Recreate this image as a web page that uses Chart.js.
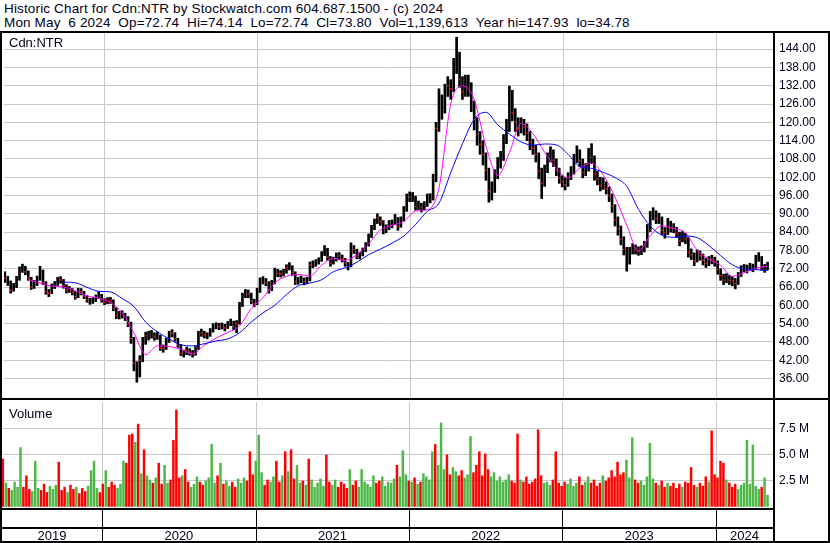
<!DOCTYPE html>
<html><head><meta charset="utf-8">
<script src="https://cdn.jsdelivr.net/npm/chart.js@4.4.1/dist/chart.umd.min.js"></script>
<style>
html,body{margin:0;padding:0;background:#fff;}
body{width:830px;height:543px;position:relative;overflow:hidden;font-family:"Liberation Sans",Arial,sans-serif;}
#title{position:absolute;left:4px;top:2px;font-size:13.5px;letter-spacing:0.15px;line-height:14px;color:#000018;white-space:pre;}
#pc{position:absolute;left:0;top:29px;}
#vc{position:absolute;left:0;top:402px;}
</style></head><body>
<div id="title">Historic Chart for Cdn:NTR by Stockwatch.com 604.687.1500 - (c) 2024
Mon May  6 2024  Op=72.74  Hi=74.14  Lo=72.74  Cl=73.80  Vol=1,139,613  Year hi=147.93  lo=34.78</div>
<canvas id="pc" width="830" height="373"></canvas>
<canvas id="vc" width="830" height="141"></canvas>
<script>
// ---- data (weekly bars starting at startDate) ----
const startDate = '2019-05-10';
const closes = [69,68,65,66,68.5,71.5,72.5,71,69,66,
67,68.5,71.5,67.5,64.5,64,66,66.8,68.1,68.3,
66.5,65,65,64.2,62.8,64.6,64.4,63,61.8,61.1,
61.5,62.5,63.5,61.8,61,61.5,61.5,59,56.7,56.8,
57,56,54,49,41,36.5,42,48,50,50,
50.5,49.8,50,46,45.8,48,50.5,50.8,49,47,
44.3,44.2,45.2,44.6,44,45.5,50.5,51,50.3,50,
51.5,53.1,53.3,53,53.2,52.6,53.7,54.4,53,54,
60,62.8,64,63.8,61.5,60.5,64.5,68,68.3,67.5,
65,67.2,71.2,70.4,70.3,70.8,72.3,72.8,70.8,67.8,
68.1,68.6,67.7,68.1,73.2,73.5,74,74.6,76.6,78.5,
75.8,73.8,74.8,76.2,76.2,75.2,73.9,72.7,79.4,78.2,
76.2,76.3,77.8,79.5,82.3,85,87,88.7,87.5,84.6,
85.1,86.6,86.6,88.6,85.8,87.8,91,95,95.5,95.5,
92.5,92.8,92,92.6,95,95,101,118,128,124.4,
130,132,131,138,145,134,130,132,132.5,126.5,
121,116,112.8,109.5,104.3,97.5,97.5,102.5,106.5,108.1,
114,118,130,123,120,118,119,118.5,116.5,113.5,
111.5,109.5,104,100,104.2,108,110.2,107.6,104.3,101.8,
100.6,99.5,101.8,103.5,107.5,110.3,107.5,103.5,104.5,109.5,
108.5,103,101.3,99.2,100,98.2,96,92.5,88,85,
81.6,78.3,75,77.5,78.7,78.3,77.8,78,79.4,85,
89,90.3,88.4,88.5,84.6,83.8,87,85.4,85.2,83.6,
81.2,82.8,81.8,77.4,76.6,74.5,76.8,76.3,74.8,73.8,
74.5,75.1,74.2,71.7,69.7,68.2,69,68.2,68.1,67.2,
69.8,71.9,72.2,71.9,72.8,72.2,75.4,75.8,72.5,71.9,
73.8];
const highs = [71,69.5,68,67.2,69.5,72.6,73.5,72.8,71.3,69.2,
68.2,69.6,72.8,71.6,67.8,65.2,67,67.8,69.2,69.4,
68.5,66.8,66.2,65.5,64.5,65.6,65.5,64.6,63.2,62.3,
62.5,63.4,64.5,63.6,62.2,62.5,62.6,61.8,59.2,58,
58.2,57.4,56.3,54.5,49.5,41.5,43.5,49.5,51.2,51.5,
51.8,51,51.3,50.2,47,49.2,51.5,52,51,49.2,
47.2,45.3,46.3,45.8,45.2,46.5,51.5,52.2,51.5,51,
52.4,54,54.3,54.1,54.2,53.8,54.7,55.5,54.8,55,
61,64,65.2,65,64,62,65.6,69,69.4,68.8,
67.8,68.2,72.2,71.8,71.4,71.8,73.3,74,73,71,
69.2,69.6,69,69.2,74.2,74.6,75,75.6,77.6,79.6,
78.7,76,75.8,77.2,77.3,76.5,75.4,74.1,80.5,79.6,
78.4,77.4,78.8,80.6,83.4,86.2,88.3,90,89,87.8,
86.4,87.8,88,89.8,88.8,89,92.4,96.5,97.2,97,
95.8,94.2,93.5,94,96.5,96.6,103,120,131,129,
132.5,135,134,141,147.9,143,135,135.5,135.5,133,
127,121.5,117,114,110,105,100.5,104.5,108.5,110.5,
116,121,131.9,130.5,124.5,121.5,121.5,121,119.5,117,
114.5,112.5,110,105,106,110,112,111,108,105,
102.5,101.8,103.5,105.5,109.5,112.3,111,108,106.5,111.5,
113,109,104,102,101.8,100.5,98.8,96.5,93,89,
86,82.5,79,79,80.2,79.8,79.2,79.5,81,86.5,
90.8,92,91,90.2,89,85.5,88.5,87.6,86.8,85.6,
84,84.2,83.6,82.2,78.5,77.2,78.2,77.8,76.8,75.4,
76,76.4,75.8,74.6,72,70.2,70.4,69.8,69.4,68.8,
70.8,73,73.4,73.2,73.8,73.5,76.4,77.3,76,73.4,
74.14];
const lows = [67.5,66.5,64,64.6,65.8,68.2,70.8,70,68.2,65.2,
65.5,66.5,68.2,66.8,63.6,62.8,63.8,65.5,66.5,67.2,
65.6,64,64.2,63.4,62,62.5,63.4,62.2,61,60.3,
60.6,61.2,62.2,61,60.2,60.5,60.6,58.2,55.6,55.5,
55.8,55,53,47.5,38.5,34.78,36.5,41.5,47.2,48.6,
49.2,48.5,48.8,45.2,44.6,45.5,47.8,49.6,48.2,46.2,
43.5,43,43.8,43.6,43,43.6,45.5,49.8,49.3,49,
49.8,51.2,52.3,52,52.2,51.6,52.4,53.3,52,51,
53.8,59.6,62.5,62.5,60.5,59.5,60.2,64.2,67,66.4,
64,64.8,67,69.4,69.2,69.6,70.5,71.6,69.8,66.8,
66.9,67.4,66.7,67,68,72.3,72.8,73.5,74.4,76.3,
74.8,72.8,73.5,74.5,75,74.2,72.8,71.6,72.6,77,
75.2,75.2,76.2,77.6,79.4,82.2,84.8,86.8,86.2,83.4,
83.8,84.8,85.4,86.4,84.6,85.6,87.6,90.8,94,94,
91.2,91.4,90.6,91.2,92.4,93.6,94.5,100.5,117,121,
123,128.5,127.5,130,136,131.5,127.5,128.5,128.5,123.5,
117.5,112.5,109.5,106,101,93.8,94.5,97,101.5,105,
107.5,113,117,120.5,117,115.5,116.5,115.8,114,111,
109.5,107,101.5,95,99,103.5,107,105.5,102.5,100,
98.8,97.8,99,101.2,103,106.8,105.5,101.8,102.5,104,
106.5,101,99.5,97.5,98,96.5,94,90.5,86,83,
79.8,76.5,71.2,73.5,76.8,76.8,76.4,76.6,77.5,79,
84.2,88,86.8,86.8,83.2,82,83.2,84,83.8,82.2,
79.5,80.8,80.2,75.8,75,73,74.2,74.8,73.2,72.4,
73,73.6,72.8,70.2,68.2,66.8,67.4,66.8,66.4,65.4,
66.8,69.4,71,70.6,71.4,71,72,74.4,71.5,70.8,
71.6];
// volume in millions of shares
const volumes = [4.6,2.3,1.8,1.6,2.4,1.9,5.7,1.9,3.0,1.7,
1.5,4.4,1.8,1.6,2.2,1.4,2.0,1.7,2.1,4.3,
1.6,1.9,1.4,2.1,1.7,1.9,1.3,1.8,1.5,2.0,
3.5,4.4,1.8,1.4,2.2,3.5,1.9,2.4,2.1,1.8,
2.2,4.4,4.2,6.9,7.0,6.2,7.95,3.2,5.5,3.0,
2.6,2.3,2.8,4.2,2.2,4.0,2.3,2.6,6.4,9.3,
2.8,3.0,3.6,2.4,1.9,2.2,2.9,2.4,2.1,2.5,
2.8,6.0,2.3,3.0,4.2,2.2,2.5,2.0,2.4,1.9,
2.7,2.3,2.8,2.5,5.3,3.1,4.4,6.9,3.3,2.1,
2.6,2.4,2.9,4.4,2.4,3.0,5.3,3.4,5.5,2.7,
4.0,2.3,2.5,2.1,4.6,2.6,1.9,2.3,2.7,2.0,
5.0,2.4,2.1,2.6,1.9,2.4,2.2,1.8,3.6,2.1,
2.5,1.9,3.6,2.4,2.2,1.9,3.0,2.3,2.5,2.9,
2.0,2.4,2.3,2.7,4.0,2.9,5.4,3.1,2.5,2.4,
2.8,2.2,2.4,3.2,2.9,2.6,5.3,6.0,4.0,8.05,
3.6,5.0,3.1,3.8,3.4,3.0,3.5,2.8,3.1,6.75,
3.3,4.0,5.3,3.0,5.1,3.6,2.9,3.3,2.5,2.9,
2.4,2.6,3.1,2.5,2.3,7.0,2.6,2.4,2.9,2.2,
2.4,2.7,7.4,3.0,2.3,2.4,2.1,2.6,5.3,2.3,
2.0,2.4,2.2,2.7,2.0,2.3,2.9,2.1,2.4,2.9,
2.3,2.6,2.0,2.3,3.0,2.5,2.8,3.5,2.9,4.3,
3.1,3.3,4.5,2.8,6.65,2.6,2.3,2.5,2.1,2.9,
6.1,2.7,2.3,2.1,2.5,1.9,2.3,2.0,2.3,1.8,
2.2,1.9,2.4,2.3,3.8,2.1,1.9,2.3,2.0,2.9,
2.4,7.3,3.1,2.8,4.4,4.2,2.6,2.3,1.9,2.2,
1.7,2.1,2.3,6.4,2.2,5.95,2.0,1.7,1.9,2.8,
1.14];
// g = up bar (green volume), r = down bar (red volume + red close mark)
const volDir = 'rgrggggrrr'+'gggrrrgggr'+'rrgrrgrrrg'+'gggrrgrrrg'+'ggrrrgrgrg'+
  'grgrrggrrr'+'rgrrgggrrg'+'gggrgrggrr'+'gggrrrgggr'+'rggrrgrgrr'+
  'ggrgrggggg'+'rrggrrrrgr'+'rggggggrrg'+'ggggrgggrg'+'rgrggggrgg'+
  'grrggrrggg'+'rrrrrrgggg'+'gggrrrgrrr'+'rrrrgggrrr'+'rrggggrrgg'+
  'rrrrgrrrrr'+'rrgggrrggg'+'ggrgrrgrrr'+'rgrrrrgrrr'+'grrrrrgrrr'+
  'ggggggggrg'+'g';
// moving averages read every maStep weeks
const maStep = 4;
const maShort = [null,null,68.4,67.3,66.3,66.0,64.8,63.1,62.4,60.9,
57.5,51,43.8,46.7,46.5,45.6,44.0,46.9,49.2,51.1,
53.2,58.9,62.5,67.3,69.5,70.1,69.6,73.2,75.4,74.7,
76.6,80.1,84.7,86.2,87.5,90.9,91.3,98.5,126,132,
127.5,112.3,102.6,110,119.7,116.3,110.2,104.9,101.8,105,
106.6,102.7,95.5,86.3,77.8,82.8,86.1,85.2,83.8,78.1,
75.1,73.1,69.5,70.7,72.2,72.8];
const maLong = [null,null,null,null,null,67.6,67.4,65.9,64.6,64.4,
62.2,59.6,54.5,51.3,49.0,47,46.7,47.4,48.3,49,
51,54.5,57.5,60,63.5,66.4,67.3,68.4,71,72.3,
74.1,76.6,78.4,80.4,82.7,86.5,90.8,93.5,103.5,113,
121,123.3,119.2,116.2,113.6,112.5,112.9,112.6,109.5,105.5,
104.9,103.6,101.9,99,91.5,86,83,82.3,82.7,82.2,
79.6,76.3,73.3,71.9,71.7,71.4];
const priceTicks = [36,42,48,54,60,66,72,78,84,90,96,102,108,114,120,126,132,138,144];
const volTicks = [2.5,5,7.5];
const years = [2019,2020,2021,2022,2023,2024];

// ---- helpers ----
const DAY = 86400000;
const t0 = Date.parse(startDate + 'T00:00:00Z');
const dayOf = s => (Date.parse(s + 'T00:00:00Z') - t0) / DAY;
const X_MIN = -2, X_MAX = 1833;
const FONT = '"Liberation Sans", Arial, sans-serif';
const GRID = '#c8c8c8';
const GREEN = '#4db848', RED = '#ff0000';
Chart.defaults.font.family = FONT;
Chart.defaults.font.size = 12;
Chart.defaults.color = '#000018';

const yearPx = (x, y) => Math.round(x.getPixelForValue(dayOf(y + '-01-01')));
const fitRight = s => { s.width = 57; s.paddingTop = 0; s.paddingBottom = 0; s.paddingLeft = 0; s.paddingRight = 0; };

const yearGrid = {
  id: 'yearGrid',
  beforeDatasetsDraw(chart) {
    const {ctx, chartArea: a, scales: {x}} = chart;
    ctx.save(); ctx.fillStyle = GRID;
    years.slice(1).forEach(y => ctx.fillRect(yearPx(x, y), a.top, 1, a.bottom - a.top));
    ctx.restore();
  }
};

const priceFrame = {
  id: 'priceFrame',
  afterDraw(chart) {
    const {ctx, chartArea: a, width: W, height: H} = chart;
    ctx.save(); ctx.fillStyle = '#000';
    ctx.fillRect(0, a.top - 2, W, 2);
    ctx.fillRect(0, a.top - 2, 2, H);
    ctx.fillRect(a.right, a.top - 2, 2, H);
    ctx.fillRect(W - 2, a.top - 2, 2, H);
    ctx.fillRect(0, a.bottom, W, 2);
    ctx.fillStyle = '#000018';
    ctx.font = '13px ' + FONT; ctx.textBaseline = 'middle'; ctx.textAlign = 'left';
    ctx.fillText('Cdn:NTR', 9, a.top + 10);
    ctx.restore();
  }
};

const volFrame = {
  id: 'volFrame',
  afterDraw(chart) {
    const {ctx, chartArea: a, width: W, height: H, scales: {x}} = chart;
    ctx.save(); ctx.fillStyle = '#000';
    ctx.fillRect(0, 0, 2, H);
    ctx.fillRect(a.right, 0, 2, H);
    ctx.fillRect(W - 2, 0, 2, H);
    const r1 = a.bottom, r2 = a.bottom + 19, r3 = H - 2;
    ctx.fillRect(0, r1, a.right + 2, 2);
    ctx.fillRect(0, r2, a.right + 2, 2);
    ctx.fillRect(0, r3, W, 2);
    years.slice(1).forEach(y => ctx.fillRect(yearPx(x, y), r1 + 2, 1, r3 - r1 - 2));
    ctx.fillStyle = '#000018';
    ctx.font = '13px ' + FONT; ctx.textBaseline = 'middle'; ctx.textAlign = 'center';
    years.forEach(y => {
      const l = Math.max(a.left, x.getPixelForValue(dayOf(y + '-01-01')));
      const r = Math.min(a.right, x.getPixelForValue(dayOf((y + 1) + '-01-01')));
      ctx.fillText(String(y), (l + r) / 2, (r2 + 2 + r3) / 2 + 1);
    });
    ctx.textAlign = 'left';
    ctx.fillText('Volume', 9, a.top + 12);
    ctx.restore();
  }
};

const xScale = {type: 'linear', min: X_MIN, max: X_MAX, display: false, offset: false, grid: {offset: false}};

new Chart(document.getElementById('pc'), {
  type: 'bar',
  data: {datasets: [
    {type: 'line', data: maLong.map((v, k) => ({x: 7 * maStep * k, y: v})), borderColor: '#0000ff', borderWidth: 1,
     pointRadius: 0, cubicInterpolationMode: 'monotone', spanGaps: true, order: 0},
    {type: 'line', data: maShort.map((v, k) => ({x: 7 * maStep * k, y: v})), borderColor: '#ff00ff', borderWidth: 1,
     pointRadius: 0, cubicInterpolationMode: 'monotone', spanGaps: true, order: 1},
    {type: 'scatter', data: closes.map((c, i) => volDir[i] === 'r' ? {x: 7 * i, y: c} : null).filter(Boolean),
     pointStyle: 'rect', pointRadius: 1.1, backgroundColor: RED, borderWidth: 0, order: 2},
    {type: 'bar', data: closes.map((c, i) => ({x: 7 * i, y: [lows[i], highs[i]]})), backgroundColor: '#000',
     borderWidth: 0, barThickness: 2, order: 3}
  ]},
  options: {
    responsive: false, animation: false, devicePixelRatio: 1,
    layout: {padding: {left: 2, top: 3, right: 0, bottom: 2}},
    plugins: {legend: {display: false}, tooltip: {enabled: false}},
    scales: {
      x: xScale,
      y: {type: 'linear', position: 'right', min: 29.6, max: 149.3,
          afterFit: fitRight,
          afterBuildTicks: s => { s.ticks = priceTicks.map(v => ({value: v})); },
          ticks: {callback: v => Number(v).toFixed(2), padding: 6, font: {size: 12}},
          grid: {color: GRID, drawTicks: false, lineWidth: 1},
          border: {display: false}}
    }
  },
  plugins: [yearGrid, priceFrame]
});

new Chart(document.getElementById('vc'), {
  type: 'bar',
  data: {datasets: [
    {data: volumes.map((v, i) => ({x: 7 * i, y: v})), backgroundColor: volumes.map((v, i) => volDir[i] === 'r' ? RED : GREEN),
     borderWidth: 0, barPercentage: 0.85, categoryPercentage: 1}
  ]},
  options: {
    responsive: false, animation: false, devicePixelRatio: 1,
    layout: {padding: {left: 2, top: 0, right: 0, bottom: 35}},
    plugins: {legend: {display: false}, tooltip: {enabled: false}},
    scales: {
      x: xScale,
      y: {type: 'linear', position: 'right', min: -0.115, max: 10.03,
          afterFit: fitRight,
          afterBuildTicks: s => { s.ticks = volTicks.map(v => ({value: v})); },
          ticks: {callback: v => Number(v).toFixed(1) + ' M', padding: 6, font: {size: 12}},
          grid: {color: GRID, drawTicks: false, lineWidth: 1},
          border: {display: false}}
    }
  },
  plugins: [yearGrid, volFrame]
});
</script>
</body></html>
